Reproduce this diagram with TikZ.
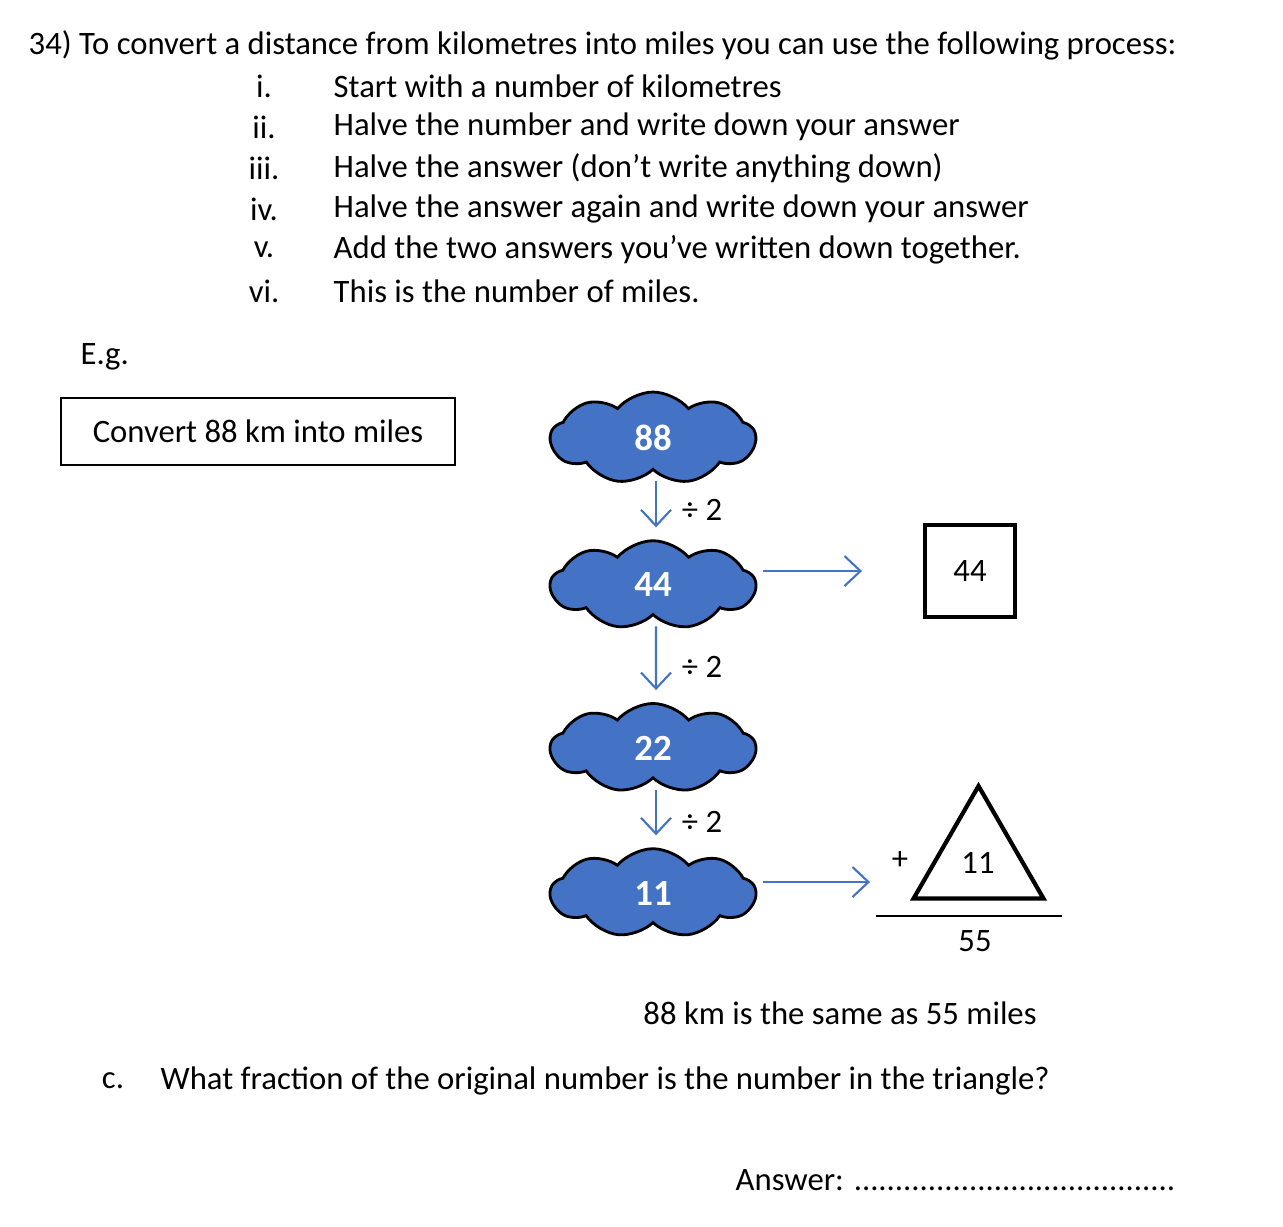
\documentclass[tikz,border=0pt]{standalone}
\usepackage{fontspec}
\setmainfont{Carlito}
\usetikzlibrary{shapes.symbols,shapes.geometric,arrows.meta,positioning}
\definecolor{cloudblue}{HTML}{4472C4}
\tikzset{
  txt/.style={anchor=west,font=\fontsize{9.3}{11}\selectfont,inner sep=0pt},
  num/.style={font=\fontsize{9.3}{11}\selectfont,inner sep=0pt},
  blob/.style={cloud,cloud puffs=9,cloud puff arc=100,aspect=2.4,fill=cloudblue,draw=black,thick,
    minimum width=2.05cm,minimum height=0.85cm,text=white,font=\fontsize{10.5}{12}\selectfont\bfseries},
  halve/.style={-{Straight Barb[length=1.6mm,width=3mm]},cloudblue,semithick}
}
\begin{document}
\begin{tikzpicture}
\useasboundingbox (0,0) rectangle (12.83,-12.26);
% heading
\node[txt] (q) at (0.28,-0.45) {34) To convert a distance from kilometres into miles you can use the following process:};
\foreach \n/\r/\t [count=\i] in {
  a/i./Start with a number of kilometres,
  b/ii./Halve the number and write down your answer,
  c/iii./Halve the answer (don’t write anything down),
  d/iv./Halve the answer again and write down your answer,
  e/v./Add the two answers you’ve written down together.,
  f/vi./This is the number of miles.}{
  \node[num] (r\n) at (2.64,{-0.86-0.41*(\i-1)}) {\r};
  \node[txt] (t\n) at (3.33,{-0.86-0.41*(\i-1)}) {\t};
}
\node[txt] (eg) at (0.8,-3.57) {E.g.};
\node[draw,thick,minimum width=3.94cm,minimum height=0.67cm,num] (conv) at (2.58,-4.315) {Convert 88 km into miles};
% clouds
\node[blob] (c88) at (6.53,-4.38) {88};
\node[blob] (c44) at (6.53,-5.85) {44};
\node[blob] (c22) at (6.53,-7.48) {22};
\node[blob] (c11) at (6.53,-8.93) {11};
\foreach \a/\b/\y in {c88/c44/5.10,c44/c22/6.67,c22/c11/8.22}{
  \draw[halve] ([xshift=0.03cm,yshift=-0.1cm]\a.south) -- ([xshift=0.03cm,yshift=0.12cm]\b.north);
  \node[num] at (7.02,-\y) {÷ 2};
}
% results
\node[draw,very thick,minimum width=0.9cm,minimum height=0.92cm,num] (sq) at (9.7,-5.71) {44};
\coordinate (e1) at (8.62,-5.71);
\draw[halve] ([xshift=0.05cm]c44.east |- e1) -- (e1);
\node[draw,very thick,regular polygon,regular polygon sides=3,minimum size=1.5cm,inner sep=0pt] (tri) at (9.785,-8.61) {};
\node[num] (t11) at (9.78,-8.63) {11};
\node[num] (plus) at (9.0,-8.6) {+};
\coordinate (e2) at (8.7,-8.82);
\draw[halve] ([xshift=0.05cm]c11.east |- e2) -- (e2);
\coordinate (l1) at (8.76,-9.16);
\coordinate (l2) at (10.62,-9.16);
\draw[semithick] (l1) -- (l2);
\node[num] (sum) at (9.75,-9.41) {55};
\node[num] (same) at (8.4,-10.13) {88 km is the same as 55 miles};
\node[num] (lc) at (1.13,-10.81) {c.};
\node[txt] (qc) at (1.6,-10.81) {What fraction of the original number is the number in the triangle?};
\node[txt] (ans) at (7.35,-11.8) {Answer: .......................................};
\end{tikzpicture}
\end{document}
